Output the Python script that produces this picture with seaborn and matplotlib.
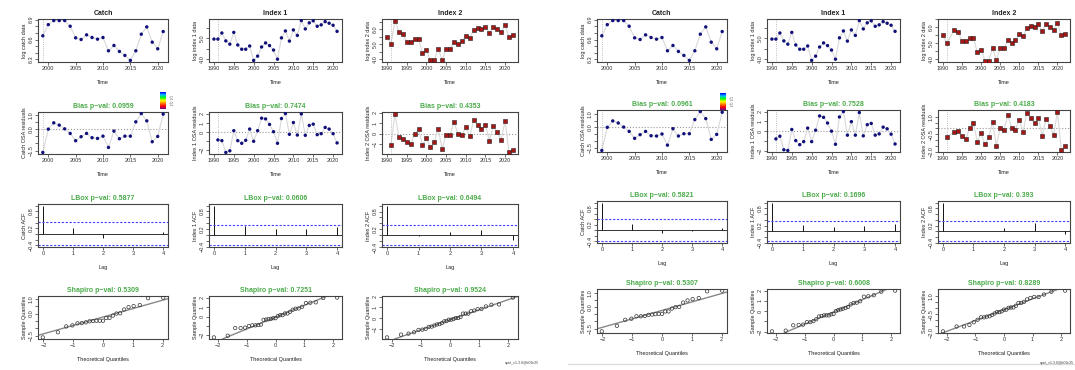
import numpy as np
import pandas as pd
import seaborn as sns
import matplotlib.pyplot as plt
from matplotlib.lines import Line2D
from matplotlib.colors import LinearSegmentedColormap
from statistics import NormalDist

# observed log data (shared by both runs)
catch_years = list(range(1999, 2022))
catch_log = [6.656, 6.824, 6.885, 6.885, 6.885, 6.80, 6.625, 6.60, 6.67, 6.63, 6.605, 6.63,
             6.43, 6.51, 6.42, 6.36, 6.285, 6.43, 6.68, 6.79, 6.56, 6.46, 6.72]
index1_years = list(range(1990, 2022))
index1_log = [4.97, 4.97, 5.27, 4.88, 4.72, 5.30, 4.68, 4.47, 4.47, 4.63, 3.92, 4.13, 4.58, 4.78,
              4.65, 4.43, 3.98, 5.03, 5.37, 4.87, 5.42, 5.15, 5.88, 5.47, 5.77, 5.87, 5.60, 5.67,
              5.83, 5.75, 5.65, 5.35]
index2_years = list(range(1990, 2023))
index2_log = [5.50, 4.98, 6.57, 5.84, 5.68, 5.14, 5.14, 5.32, 5.34, 4.41, 4.59, 3.91, 3.91, 4.70,
              3.93, 4.70, 4.68, 5.16, 5.00, 5.18, 5.55, 5.41, 5.93, 6.05, 5.98, 6.16, 5.75, 6.16,
              6.00, 5.82, 6.25, 5.48, 5.59]
# second run drops this index 2 year
right_dropped = [1992]

# OSA residuals
catch_res_years = list(range(1999, 2022))
index1_res_years = list(range(1991, 2022))
index2_res_years = list(range(1991, 2023))

left_catch_res = [-1.63, 0.0, 0.44, 0.28, 0.02, -0.30, -0.81, -0.53, -0.30, -0.60, -0.65, -0.49,
                  -1.28, -0.14, -0.67, -0.49, -0.49, 0.51, 1.09, 0.58, -0.88, -0.51, 1.05]
left_index1_res = [-0.87, -0.95, -2.25, -2.07, 0.15, -0.95, -1.24, -0.91, 0.33, -1.02, 0.15, 1.53,
                   1.45, 0.84, 0.04, -1.24, 1.49, 2.04, -0.25, 1.05, -0.33, 2.0, -0.36, 0.73, 0.87,
                   -0.29, -0.18, 0.51, 0.33, -0.18, -1.20]
left_index2_res = [-1.13, 1.94, -0.32, -0.58, -0.84, -1.03, 0.0, 0.42, -1.10, -0.48, -1.35, -0.81,
                   0.42, -1.48, -0.10, -0.16, 1.10, 0.0, -0.16, 0.65, -0.29, 1.29, 0.84, 0.42, 0.87,
                   -0.71, 0.71, 0.10, -0.61, 1.26, -1.84, -1.58]
right_catch_res = [-1.70, 0.0, 0.47, 0.32, 0.02, -0.30, -0.81, -0.54, -0.30, -0.62, -0.64, -0.49,
                   -1.31, -0.10, -0.64, -0.47, -0.47, 0.57, 1.16, 0.64, -0.89, -0.52, 1.11]
right_index1_res = [-0.79, -0.52, -1.90, -1.97, 0.17, -0.97, -1.38, -1.07, 0.31, -1.07, 0.10, 1.55,
                    1.41, 0.83, 0.0, -1.34, 1.45, 2.0, -0.41, 0.97, -0.41, 1.90, -0.48, 0.66, 0.79,
                    -0.41, -0.28, 0.41, 0.24, -0.31, -1.31]
right_index2_res = [-0.75, -0.32, -0.26, -0.69, -0.95, 0.06, 0.43, -1.15, -0.43, -1.38, -0.75, 0.52,
                    -1.50, 0.03, -0.12, 1.12, 0.06, -0.12, 0.72, -0.32, 1.35, 0.92, 0.43, 0.92,
                    -0.66, 0.84, 0.20, -0.55, 1.44, -1.90, -1.50]

# autocorrelation, lags 0-4
left_acf = [[1, 0.20, -0.14, -0.02, 0.08], [1, 0.30, 0.19, 0.19, 0.26], [1, -0.02, 0.11, 0.17, -0.15]]
right_acf = [[1, 0.24, -0.10, -0.02, 0.07], [1, 0.21, 0.15, 0.20, 0.26], [1, 0.02, 0.13, 0.28, -0.09]]

# test p-values
left_bias = ["0.0959", "0.7474", "0.4353"]
left_lbox = ["0.5877", "0.0606", "0.6494"]
left_shapiro = ["0.5309", "0.7251", "0.9524"]
right_bias = ["0.0961", "0.7528", "0.4183"]
right_lbox = ["0.5821", "0.1696", "0.393"]
right_shapiro = ["0.5307", "0.6008", "0.8289"]

names = ["Catch", "Index 1", "Index 2"]
data_ylabels = ["log catch data", "log index 1 data", "log index 2 data"]
res_ylabels = ["Catch OSA residuals", "Index 1 OSA residuals", "Index 2 OSA residuals"]
acf_ylabels = ["Catch ACF", "Index 1 ACF", "Index 2 ACF"]

# y tick positions and the labels R kept
m = "\u2212"
data_ticks = [([6.3, 6.4, 6.5, 6.6, 6.7, 6.8, 6.9], ["6.3", "", "", "6.6", "", "", "6.9"]),
              ([4.0, 4.5, 5.0, 5.5], ["4.0", "", "5.0", ""]),
              ([4.0, 4.5, 5.0, 5.5, 6.0, 6.5], ["4.0", "", "5.0", "", "6.0", ""])]
catch_res_ticks = ([-1.5, -1, -0.5, 0, 0.5, 1.0], [m + "1.5", "", "", "0.0", "", "1.0"])
index1_res_ticks = ([-2, -1, 0, 1, 2], [m + "2", "", "0", "1", "2"])
left_index2_res_ticks = ([-1, 0, 1, 2], [m + "1", "0", "1", "2"])
right_index2_res_ticks = ([-2, -1.5, -1, -0.5, 0, 0.5, 1.0],
                          [m + "2.0", "", "", m + "0.5", "", "", "1.0"])
acf_ticks = ([-0.4, -0.2, 0, 0.2, 0.4, 0.6, 0.8, 1.0], [m + "0.4", "", "", "0.2", "", "", "0.8", ""])
qq_xticks = ([-2, -1, 0, 1, 2], [m + "2", m + "1", "0", "1", "2"])
acf_xticks = ([0, 1, 2, 3, 4], ["0", "1", "2", "3", "4"])

sns.set_style("ticks")
plt.rcParams['font.family'] = ['Liberation Sans', 'DejaVu Sans']

W, H = 1075, 370
fig = plt.figure(figsize=(W / 100, H / 100), dpi=100)

GREEN = '#4aab4a'
dot_style = dict(marker='o', s=6, color='#10107a', edgecolor='none')
sq_style = dict(marker='s', s=6, color='#a81515', edgecolor='#222222', linewidth=0.4)


def px_axes(l, t, r, b):
    return fig.add_axes([l / W, 1 - b / H, (r - l) / W, (b - t) / H])


def rlim(vals):
    lo, hi = min(vals), max(vals)
    d = (hi - lo) * 0.04
    return lo - d, hi + d


def style_ax(ax, yt, xt=None):
    for s in ax.spines.values():
        s.set_color('#444444')
        s.set_linewidth(0.8)
        s.set_visible(True)
    ax.set_yticks(yt[0], yt[1])
    if xt is not None:
        ax.set_xticks(xt[0], xt[1])
    ax.tick_params(length=2, width=0.5, pad=1, labelsize=4, colors='#333333')
    ax.tick_params(axis='y', labelrotation=90)
    for lab in ax.get_yticklabels():
        lab.set_va('center')


def labels(ax, title, xlabel, ylabel, tcol):
    ax.set_title(title, fontsize=5, fontweight='bold', color=tcol, pad=3)
    ax.set_xlabel(xlabel, fontsize=4, labelpad=6, color='#222222')
    ax.set_ylabel(ylabel, fontsize=4, labelpad=1.5, color='#222222')


def year_ticks(years):
    t = [y for y in range(1990, 2025, 5) if years[0] <= y <= years[-1]]
    return t, [str(y) for y in t]


def series_plot(ax, years, vals, mstyle, vline, yt, ylim, xyears):
    sns.lineplot(x=years, y=vals, ax=ax, color='#d8d8d8', lw=0.8, sort=False, estimator=None)
    sns.scatterplot(x=years, y=vals, ax=ax, zorder=3, legend=False, **mstyle)
    ax.axvline(vline, color='#aaaaaa', ls=':', lw=0.6)
    ax.set_xlim(rlim(xyears))
    ax.set_ylim(ylim)
    style_ax(ax, yt, year_ticks(xyears))


def draw_run(cols, rows, series, acfs, bias, lbox, shapiro, bar_pos, stamp_x):
    for j, (dyears, dvals, ryears, rvals, mstyle, rticks) in enumerate(series):
        l, r = cols[j]
        # data row
        ax = px_axes(l, rows[0][0], r, rows[0][1])
        series_plot(ax, dyears, dvals, mstyle, ryears[0], data_ticks[j], rlim(dvals), dyears)
        labels(ax, names[j], "Time", data_ylabels[j], '#222222')

        # residual row
        ax = px_axes(l, rows[1][0], r, rows[1][1])
        series_plot(ax, ryears, rvals, mstyle, ryears[0], rticks, rlim(rvals), dyears)
        ax.axhline(0, color='#999999', ls=':', lw=0.8, zorder=1)
        labels(ax, f"Bias p\u2212val: {bias[j]}", "Time", res_ylabels[j], GREEN)

        # acf row
        ax = px_axes(l, rows[2][0], r, rows[2][1])
        acf = acfs[j]
        ci = 1.96 / np.sqrt(len(rvals))
        lags = np.arange(len(acf))
        ax.vlines(lags, 0, acf, color='#111111', lw=0.7)
        ax.axhline(0, color='#111111', lw=0.6)
        for c in (ci, -ci):
            ax.axhline(c, color='#4040ff', ls=(0, (2, 1.5)), lw=0.8)
        ax.set_xlim(rlim(lags))
        ax.set_ylim(rlim([min(-ci, min(acf)), 1]))
        style_ax(ax, acf_ticks, acf_xticks)
        labels(ax, f"LBox p\u2212val: {lbox[j]}", "Lag", acf_ylabels[j], GREEN)

        # qq row
        ax = px_axes(l, rows[3][0], r, rows[3][1])
        srt = np.sort(rvals)
        n = len(srt)
        nd = NormalDist()
        theo = [nd.inv_cdf((i - 0.5) / n) for i in range(1, n + 1)]
        qq = pd.DataFrame({'theo': theo, 'sample': srt})
        sns.scatterplot(data=qq, x='theo', y='sample', ax=ax, marker='o', s=6,
                        facecolor='none', edgecolor='#333333', linewidth=0.5, zorder=3)
        q1, q3 = np.quantile(rvals, [0.25, 0.75])
        t1, t3 = nd.inv_cdf(0.25), nd.inv_cdf(0.75)
        ax.axline((t1, q1), slope=(q3 - q1) / (t3 - t1), color='#888888', lw=1.0, zorder=2)
        ax.set_xlim(rlim(theo))
        ax.set_ylim(rlim(srt))
        style_ax(ax, rticks, qq_xticks)
        labels(ax, f"Shapiro p\u2212val: {shapiro[j]}", "Theoretical Quantiles",
               "Sample Quantiles", GREEN)

    # little colour key above the catch residuals
    cax = px_axes(*bar_pos)
    cmap = LinearSegmentedColormap.from_list(
        'key', ['#0000ff', '#00c0ff', '#00ff00', '#ffff00', '#ff8000', '#ff0000', '#800080'])
    cax.imshow(np.linspace(0, 1, 50).reshape(-1, 1), aspect='auto', cmap=cmap)
    cax.set_axis_off()
    fig.text((bar_pos[2] + 1.5) / W, 1 - (bar_pos[1] + bar_pos[3]) / 2 / H, "Q1 Q4",
             fontsize=2.5, rotation=270, va='center', ha='left', color='#666666')
    fig.text(stamp_x / W, 1 - 363 / H, "spict_v1.3.8@b09c35", fontsize=2.5,
             color='#444444', va='center')


left_series = [
    (catch_years, catch_log, catch_res_years, left_catch_res, dot_style, catch_res_ticks),
    (index1_years, index1_log, index1_res_years, left_index1_res, dot_style, index1_res_ticks),
    (index2_years, index2_log, index2_res_years, left_index2_res, sq_style, left_index2_res_ticks),
]
r_i2_years = [y for y in index2_years if y not in right_dropped]
r_i2_log = [v for y, v in zip(index2_years, index2_log) if y not in right_dropped]
r_i2_res_years = [y for y in index2_res_years if y not in right_dropped]
right_series = [
    (catch_years, catch_log, catch_res_years, right_catch_res, dot_style, catch_res_ticks),
    (index1_years, index1_log, index1_res_years, right_index1_res, dot_style, index1_res_ticks),
    (r_i2_years, r_i2_log, r_i2_res_years, right_index2_res, sq_style, right_index2_res_ticks),
]

draw_run([(38, 168), (209, 342), (382, 518)], [(19, 62), (112, 154), (204, 247), (296, 339)],
         left_series, left_acf, left_bias, left_lbox, left_shapiro, (160, 92, 166, 109), 505)
draw_run([(597, 727), (767, 900), (938, 1070)], [(19, 62), (110, 152), (201, 243), (289, 333)],
         right_series, right_acf, right_bias, right_lbox, right_shapiro, (720, 93, 726, 110), 1040)

fig.add_artist(Line2D([568 / W, 1.0], [1 - 364 / H, 1 - 364 / H], color='#dddddd', lw=1.0))

fig.savefig('out.png', dpi=100)
